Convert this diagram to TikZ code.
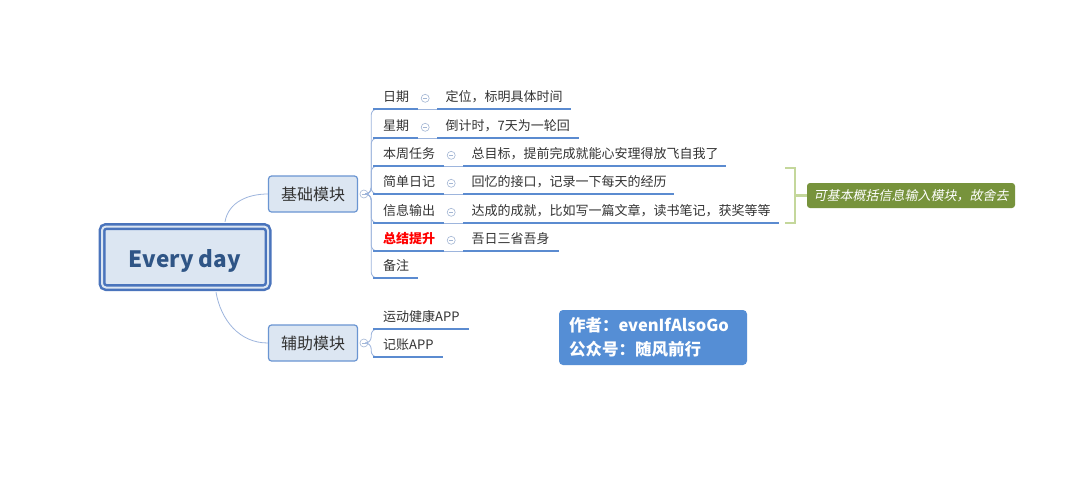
\documentclass[tikz,border=0pt]{standalone}
\usepackage{fontspec}
\setmainfont{Noto Sans CJK SC}
\newfontfamily\notefont[FakeSlant=0.2]{Noto Sans CJK SC}
\usetikzlibrary{positioning}

\definecolor{rootline}{HTML}{4A74BC}
\definecolor{rootfill}{HTML}{DCE6F2}
\definecolor{roottext}{HTML}{2F5586}
\definecolor{topicline}{HTML}{6A95D2}
\definecolor{branchcol}{HTML}{9DB5DD}
\definecolor{ulinecol}{HTML}{5B8BD0}
\definecolor{foldcol}{HTML}{A3B6D4}
\definecolor{textcol}{HTML}{333333}
\definecolor{notegreen}{HTML}{77933C}
\definecolor{bracketcol}{HTML}{C4D79B}
\definecolor{authorblue}{HTML}{558ED5}

\begin{document}
\begin{tikzpicture}[x=1pt, y=-1pt,
  root/.style={draw=rootline, line width=2.5, double=rootfill, double distance=2,
    fill=rootfill, rounded corners=4, minimum width=166, minimum height=61,
    text height=20, text depth=0,
    text=roottext, font=\fontsize{22.5}{26}\selectfont\bfseries},
  topic/.style={draw=topicline, line width=1.2, fill=rootfill, rounded corners=3,
    minimum width=89, minimum height=36, text=textcol, font=\fontsize{16}{18}\selectfont},
  leaf/.style={anchor=south west, align=left, inner xsep=10, inner ysep=4,
    text height=10, text depth=3, text=textcol, font=\fontsize{13}{15}\selectfont},
  subleaf/.style={leaf, inner xsep=8},
  uline/.style={draw=ulinecol, line width=2},
  branch/.style={draw=branchcol, line width=0.8},
  fold/.style={circle, draw=foldcol, line width=0.6, minimum size=8, inner sep=0,
    path picture={\draw[foldcol, line width=0.6]
      ([xshift=-2]path picture bounding box.center) -- ([xshift=2]path picture bounding box.center);}},
  bracket/.style={draw=bracketcol, line width=2.5},
]
\fill[white] (0,0) rectangle (1080,491);
\useasboundingbox (0,0) rectangle (1080,491);

% Central topic and main branches
\node[root] (root) at (185,257) {Every day};
\node[topic] (m1) at (313,194) {基础模块};
\node[topic] (m2) at (313,343) {辅助模块};
\node[fold, right=1.5pt of m1] (f1) {};
\node[fold, right=1.5pt of m2] (f2) {};

\draw[branch] ([xshift=40,yshift=3.5]root.north) to[out=80, in=180] (m1.west);
\draw[branch] ([xshift=31,yshift=-3.5]root.south) to[out=-80, in=180] (m2.west);

% Basic modules
\node[leaf, text width=25] (d1) at (373,109) {日期};
\node[leaf, text width=25] (d2) at (373,138) {星期};
\node[leaf, text width=51] (d3) at (373,166) {本周任务};
\node[leaf, text width=51] (d4) at (373,194) {简单日记};
\node[leaf, text width=51] (d5) at (373,223) {信息输出};
\node[leaf, text width=51, text=red, font=\fontsize{13}{15}\selectfont\bfseries] (d6) at (373,251) {总结提升};
\node[leaf, text width=25] (d7) at (373,278) {备注};

\foreach \n in {d1,d2,d3,d4,d5,d6,d7} {
  \draw[branch, rounded corners=6] (f1.east) -- ++(3,0) |- ([xshift=6]\n.south west);
  \draw[uline] (\n.south west) -- (\n.south east);
}

% Details of each module
\node[subleaf, text width=117] (e1) at ([xshift=19]d1.south east) {定位，标明具体时间};
\node[subleaf, text width=125] (e2) at ([xshift=19]d2.south east) {倒计时，7天为一轮回};
\node[subleaf, text width=246] (e3) at ([xshift=19]d3.south east) {总目标，提前完成就能心安理得放飞自我了};
\node[subleaf, text width=194] (e4) at ([xshift=19]d4.south east) {回忆的接口，记录一下每天的经历};
\node[subleaf, text width=299] (e5) at ([xshift=19]d5.south east) {达成的成就，比如写一篇文章，读书笔记，获奖等等};
\node[subleaf, text width=79] (e6) at ([xshift=19]d6.south east) {吾日三省吾身};

\foreach \i in {1,...,6} {
  \node[fold, right=2.5pt of d\i.east] (g\i) {};
  \draw[branch] (d\i.south east) -- (e\i.south west);
  \draw[uline] (e\i.south west) -- (e\i.south east);
}

% Note on the bracket
\node[fill=notegreen, rounded corners=3, minimum width=208, minimum height=25, inner sep=0,
  text=white, font=\fontsize{13}{15}\selectfont\notefont] (n1) at (911,195.5) {可基本概括信息输入模块，故舍去};
\coordinate (bt) at (795,168);
\coordinate (bb) at (795,223);
\coordinate (bm) at (795,195.5);
\draw[bracket] ([xshift=-10]bt) -- (bt) -- (bb) -- ([xshift=-10]bb);
\draw[bracket] (bm) -- (n1.west);

% Auxiliary modules
\node[leaf, text width=76] (h1) at (373,329) {运动健康APP};
\node[leaf, text width=50] (h2) at (373,357) {记账APP};
\foreach \n in {h1,h2} {
  \draw[branch, rounded corners=6] (f2.east) -- ++(3,0) |- ([xshift=6]\n.south west);
  \draw[uline] (\n.south west) -- (\n.south east);
}

% Author box
\node[fill=authorblue, rounded corners=4, minimum width=188, minimum height=55,
  inner xsep=10, text width=168, align=left, text=white,
  font=\fontsize{16.5}{24}\selectfont\bfseries] (a1) at (653,337.5) {作者：evenIfAlsoGo\\公众号：随风前行};
\end{tikzpicture}
\end{document}
